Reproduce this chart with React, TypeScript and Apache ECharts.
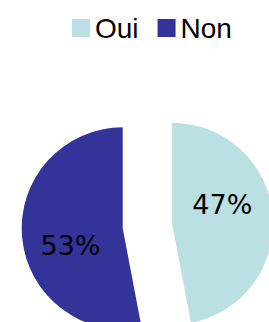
import React, { useEffect, useRef } from "react";
import * as echarts from "echarts";

const categories = ["Oui", "Non"];
const values = [47, 53];
const colors = ["#BBE0E3", "#333399"];
const labelShifts = [[-3, -14], [1, 12]];

export default function App() {
  const ref = useRef<HTMLDivElement>(null);
  useEffect(() => {
    document.body.style.margin = "0";
    const chart = echarts.init(ref.current!, null, { renderer: "svg" });
    chart.setOption({
      animation: false,
      legend: {
        data: categories,
        left: 72,
        top: 14,
        padding: 0,
        itemWidth: 18,
        itemHeight: 18,
        itemGap: 19,
        icon: "rect",
        selectedMode: false,
        textStyle: { fontFamily: "Liberation Sans", fontSize: 28, color: "#000" },
      },
      series: [
        {
          type: "pie",
          center: [147.4, 226],
          radius: 101,
          startAngle: 90,
          clockwise: true,
          selectedMode: "multiple",
          selectedOffset: 24.8,
          silent: true,
          labelLine: { show: false },
          labelLayout: (params: any) => ({
            dx: labelShifts[params.dataIndex][0],
            dy: labelShifts[params.dataIndex][1],
          }),
          data: categories.map((name, i) => ({
            name,
            value: values[i],
            selected: true,
            itemStyle: { color: colors[i], borderWidth: 0 },
            select: { itemStyle: { color: colors[i], borderWidth: 0 } },
            label: {
              show: true,
              position: "inside",
              formatter: "{d}%",
              fontFamily: "DejaVu Sans",
              fontSize: 27,
              color: "#000",
            },
          })),
        },
      ],
    });
    return () => chart.dispose();
  }, []);
  return <div ref={ref} style={{ width: 269, height: 322 }} />;
}
